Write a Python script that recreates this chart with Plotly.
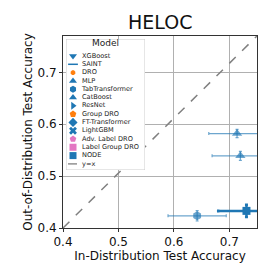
import plotly.graph_objects as go

# ---- data ----
models = ["MLP", "CatBoost", "TabTransformer", "NODE"]
symbols = ["triangle-up", "triangle-up", "hexagon", "square"]
id_acc = [0.714, 0.720, 0.642, 0.731]
id_err = [0.051, 0.051, 0.0525, 0.051]
ood_acc = [0.582, 0.539, 0.4235, 0.433]
ood_err = [0.008, 0.0085, 0.010, 0.012]

legend_names = ["XGBoost", "SAINT", "DRO", "MLP", "TabTransformer", "CatBoost", "ResNet",
                "Group DRO", "FT-Transformer", "LightGBM", "Adv. Label DRO",
                "Label Group DRO", "NODE", "y=x"]
legend_symbols = ["triangle-down", "line-ew", "octagon", "triangle-up", "hexagon",
                  "triangle-up", "triangle-right", "pentagon", "diamond", "x",
                  "pentagon", "square-cross", "square", None]
BLUE = "#1f77b4"
ORANGE = "#ff7f0e"
PINK = "#e377c2"
legend_colors = [BLUE, BLUE, ORANGE, BLUE, BLUE, BLUE, BLUE, ORANGE, BLUE, BLUE,
                 PINK, PINK, BLUE, "gray"]

xlim = [0.4, 0.75]
ylim = [0.4, 0.77]
xticks = [0.4, 0.5, 0.6, 0.7]
yticks = [0.4, 0.5, 0.6, 0.7]
diag = [0, 1]  # y=x drawn across the axes (axes-fraction units)

FONT = "DejaVu Sans"
fig = go.Figure()

# y=x diagonal on an overlay axis spanning [0,1] x [0,1] of the plot area
fig.add_trace(go.Scatter(x=diag, y=diag, mode="lines", xaxis="x2", yaxis="y2",
                         line=dict(color="gray", dash="dash", width=1.5),
                         showlegend=False, hoverinfo="skip"))

for m, s, xa, xe, ya, ye in zip(models, symbols, id_acc, id_err, ood_acc, ood_err):
    dark = (m == "NODE")
    col = BLUE if dark else "rgba(31,119,180,0.65)"
    fig.add_trace(go.Scatter(
        x=[xa], y=[ya], mode="markers", name=m, showlegend=False,
        marker=dict(symbol=s, size=9 if s != "square" else 8, color=col, line=dict(width=0)),
        error_x=dict(type="data", array=[xe], color=col, thickness=2.5 if dark else 1.2, width=1.5),
        error_y=dict(type="data", array=[ye], color=col, thickness=2.5 if dark else 1.2, width=1.5),
    ))

# ---- custom compact legend on a third axis pair (pixel units) ----
BOX_W, BOX_H = 79, 131
row0, step = 17, 8.3
rows = [row0 + step * i for i in range(len(legend_names))]

fig.add_trace(go.Scatter(x=[0, BOX_W, BOX_W, 0, 0], y=[0, 0, BOX_H, BOX_H, 0],
                         mode="lines", fill="toself", fillcolor="rgba(255,255,255,0.85)",
                         line=dict(color="#cccccc", width=1), xaxis="x3", yaxis="y3",
                         showlegend=False, hoverinfo="skip"))
for name, sym, col, r in zip(legend_names, legend_symbols, legend_colors, rows):
    if sym is None:
        fig.add_trace(go.Scatter(x=[2, 12], y=[r, r], mode="lines",
                                 line=dict(color=col, dash="dash", width=1.3),
                                 xaxis="x3", yaxis="y3", showlegend=False, hoverinfo="skip"))
    else:
        size = 7
        if sym in ("octagon",):
            size = 5
        if sym == "line-ew":
            mk = dict(symbol=sym, size=7, color=col, line=dict(color=col, width=1.5))
        else:
            mk = dict(symbol=sym, size=size, color=col, line=dict(width=0))
        fig.add_trace(go.Scatter(x=[7], y=[r], mode="markers", marker=mk,
                                 xaxis="x3", yaxis="y3", showlegend=False, hoverinfo="skip"))
fig.add_trace(go.Scatter(x=[16] * len(legend_names), y=rows, mode="text",
                         text=legend_names, textposition="middle right",
                         textfont=dict(family=FONT, size=6.6, color="#222"),
                         xaxis="x3", yaxis="y3", showlegend=False, hoverinfo="skip"))
fig.add_trace(go.Scatter(x=[BOX_W / 2], y=[5], mode="text", text=["Model"],
                         textposition="middle center",
                         textfont=dict(family=FONT, size=9, color="#222"),
                         xaxis="x3", yaxis="y3", showlegend=False, hoverinfo="skip"))

W = H = 266
L, R, T, B = 55, 17, 28, 46
pw, ph = W - L - R, H - T - B
bx0, by0 = L + 3, T + 3
x3d = [(bx0 - L) / pw, (bx0 + BOX_W - L) / pw]
y3d = [1 - (by0 + BOX_H - T) / ph, 1 - (by0 - T) / ph]

axis_common = dict(showgrid=True, gridcolor="#b0b0b0", gridwidth=0.8,
                   showline=True, linecolor="#333333", linewidth=1, mirror=True,
                   ticks="outside", ticklen=3, tickcolor="#333333",
                   tickfont=dict(family=FONT, size=12, color="#111"),
                   zeroline=False)

fig.update_layout(
    width=W, height=H,
    margin=dict(l=L, r=R, t=T, b=B),
    paper_bgcolor="white", plot_bgcolor="white",
    font=dict(family=FONT, color="#111"),
    xaxis=dict(**axis_common, range=xlim, tickvals=xticks, ticktext=[f"{v:.1f}" for v in xticks],
               title=dict(text="In-Distribution Test Accuracy", font=dict(size=12), standoff=2)),
    yaxis=dict(**axis_common, range=ylim, tickvals=yticks, ticktext=[f"{v:.1f}" for v in yticks],
               title=dict(text="Out-of-Distribution Test Accuracy", font=dict(size=12), standoff=2)),
    xaxis2=dict(overlaying="x", range=diag, visible=False, fixedrange=True),
    yaxis2=dict(overlaying="y", range=diag, visible=False, fixedrange=True),
    xaxis3=dict(domain=x3d, range=[0, BOX_W], visible=False, anchor="y3", fixedrange=True),
    yaxis3=dict(domain=y3d, range=[BOX_H, 0], visible=False, anchor="x3", fixedrange=True),
    showlegend=False,
    annotations=[dict(text="HELOC", x=0.5, y=1, xref="paper", yref="paper",
                      xanchor="center", yanchor="bottom", yshift=1, showarrow=False,
                      font=dict(family=FONT, size=19, color="#111"))],
)

fig.write_html("out.html")
